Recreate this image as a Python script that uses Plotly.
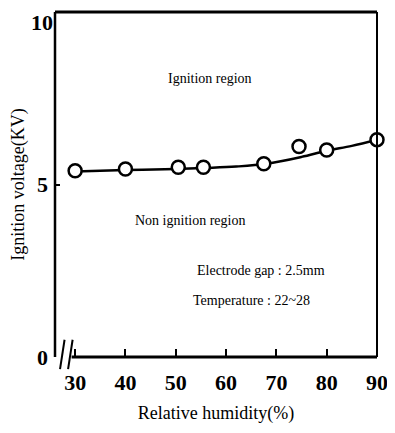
import plotly.graph_objects as go

humidity = [30, 40, 50.5, 55.5, 67.5, 74.5, 80, 90]
voltage = [5.4, 5.45, 5.5, 5.5, 5.6, 6.1, 6.0, 6.3]
fit_humidity = [30, 40, 50, 56, 62, 68, 75, 80, 85, 90]
fit_voltage = [5.38, 5.42, 5.45, 5.48, 5.52, 5.6, 5.8, 5.98, 6.12, 6.3]
x_ticks = [30, 40, 50, 60, 70, 80, 90]
y_ticks = [0, 5, 10]
y_ticklabels = ["0", "5", ""]

serif = "Liberation Serif"
fig = go.Figure()
fig.add_trace(go.Scatter(x=fit_humidity, y=fit_voltage, mode="lines",
                         line=dict(color="black", width=2.5, shape="spline"),
                         showlegend=False, hoverinfo="skip"))
fig.add_trace(go.Scatter(x=humidity, y=voltage, mode="markers",
                         marker=dict(symbol="circle", size=13, color="white",
                                     line=dict(color="black", width=2.5)),
                         showlegend=False, cliponaxis=False))

# frame
fig.add_shape(type="line", xref="paper", yref="paper", x0=0, x1=0, y0=0, y1=1,
              line=dict(color="black", width=2.5))
fig.add_shape(type="line", xref="paper", yref="paper", x0=0, x1=1, y0=1, y1=1,
              line=dict(color="black", width=3))
fig.add_shape(type="line", xref="paper", yref="paper", x0=1, x1=1, y0=0, y1=1,
              line=dict(color="black", width=2))
fig.add_shape(type="line", xref="x", yref="paper", x0=29.3, x1=90, y0=0, y1=0,
              line=dict(color="black", width=3))
# axis break marks
for x0 in [27.0, 28.6]:
    fig.add_shape(type="line", xref="x", yref="paper", x0=x0, x1=x0 + 0.9,
                  y0=-0.035, y1=0.05, line=dict(color="black", width=2))

# top tick label "10"
fig.add_annotation(x=0, y=1, xref="paper", yref="paper", text="<b>10</b>",
                   xanchor="right", yanchor="middle", xshift=-1, yshift=-10,
                   borderpad=0, showarrow=False,
                   font=dict(family=serif, size=22, color="black"))

fig.add_annotation(x=0.48, y=0.836, xref="paper", yref="paper", text="Ignition region",
                   showarrow=False, font=dict(family=serif, size=14, color="black"))
fig.add_annotation(x=0.42, y=0.395, xref="paper", yref="paper", text="Non ignition region",
                   showarrow=False, font=dict(family=serif, size=14, color="black"))
fig.add_annotation(x=0.64, y=0.224, xref="paper", yref="paper", text="Electrode gap : 2.5mm",
                   showarrow=False, font=dict(family=serif, size=14, color="black"))
fig.add_annotation(x=0.61, y=0.137, xref="paper", yref="paper", text="Temperature : 22~28",
                   showarrow=False, font=dict(family=serif, size=14, color="black"))

fig.update_layout(
    width=387, height=425,
    margin=dict(l=47, r=18, t=4, b=76),
    plot_bgcolor="white", paper_bgcolor="white",
    xaxis=dict(range=[26, 90], tickvals=x_ticks, ticktext=["<b>%d</b>" % v for v in x_ticks],
               ticks="inside", ticklen=8, tickwidth=2, tickcolor="black", automargin=False,
               showgrid=False, zeroline=False, showline=False, ticklabelstandoff=10,
               tickfont=dict(family=serif, size=22, color="black"),
               title=dict(text="Relative humidity(%)", standoff=12,
                          font=dict(family=serif, size=18, color="black"))),
    yaxis=dict(range=[0, 10], tickvals=y_ticks, ticktext=["<b>%s</b>" % t for t in y_ticklabels],
               ticks="inside", ticklen=5, tickwidth=2, tickcolor="black", automargin=False,
               showgrid=False, zeroline=False, showline=False, ticklabelstandoff=6,
               tickfont=dict(family=serif, size=22, color="black"),
               title=dict(text="Ignition voltage(KV)", standoff=2,
                          font=dict(family=serif, size=18, color="black"))),
)
fig.write_html("out.html")
